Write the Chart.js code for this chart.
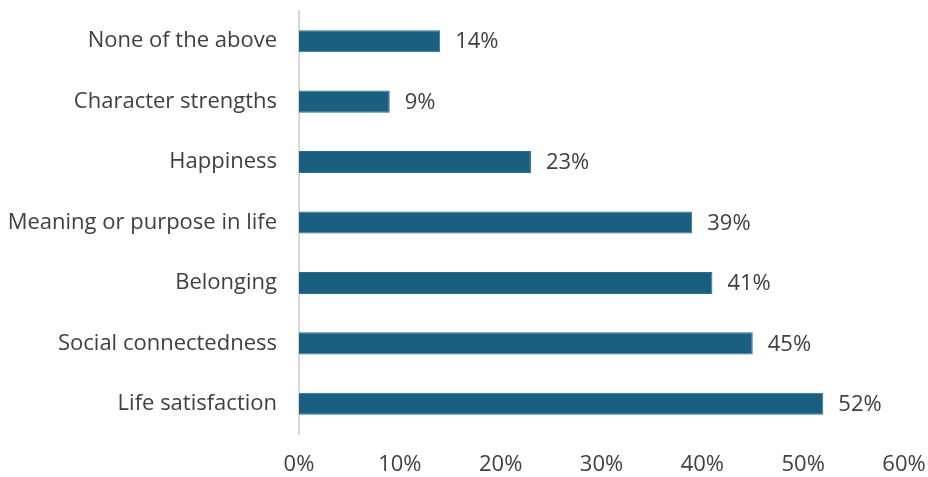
<!DOCTYPE html>
<html>
<head>
<meta charset="utf-8">
<script src="https://cdn.jsdelivr.net/npm/chart.js@4"></script>
<style>
  html, body { margin: 0; padding: 0; background: #ffffff; }
  #wrap { width: 928px; height: 477px; }
</style>
</head>
<body>
<div id="wrap"><canvas id="chart"></canvas></div>
<script>
const categories = [
    "None of the above",
    "Character strengths",
    "Happiness",
    "Meaning or purpose in life",
    "Belonging",
    "Social connectedness",
    "Life satisfaction"
];
const percentValues = [14, 9, 23, 39, 41, 45, 52];
const xTicks = [0, 10, 20, 30, 40, 50, 60];

const textColor = "#404040";
const barColor = "#1a5e80";

// draws "NN%" just past the end of each bar
const endLabels = {
    id: "endLabels",
    afterDatasetsDraw(chart) {
        const ctx = chart.ctx;
        const meta = chart.getDatasetMeta(0);
        ctx.save();
        ctx.font = "22px 'Open Sans'";
        ctx.fillStyle = textColor;
        ctx.textAlign = "left";
        ctx.textBaseline = "middle";
        meta.data.forEach((bar, i) => {
            ctx.fillText(percentValues[i] + "%", bar.x + 15, bar.y + 1);
        });
        ctx.restore();
    }
};

const ctx = document.getElementById("chart").getContext("2d");
const chart = new Chart(ctx, {
    type: "bar",
    data: {
        labels: categories,
        datasets: [
            {
                data: percentValues,
                backgroundColor: barColor,
                borderColor: "#2b6f90",
                borderWidth: 1,
                barPercentage: 0.365,
                categoryPercentage: 1.0,
            },
        ],
    },
    options: {
        indexAxis: "y",
        responsive: true,
        maintainAspectRatio: false,
        animation: false,
        layout: { padding: { top: 11, right: 24, bottom: 0, left: 0 } },
        plugins: {
            legend: { display: false },
            tooltip: { enabled: false },
        },
        scales: {
            x: {
                min: 0,
                max: 60,
                afterBuildTicks: (axis) => { axis.ticks = xTicks.map((v) => ({ value: v })); },
                afterFit: (axis) => {
                    axis.height = 43;
                    axis.paddingLeft = 0;
                    axis.paddingRight = 0;
                },
                ticks: {
                    callback: (v) => v + "%",
                    color: textColor,
                    font: { family: "'Open Sans'", size: 22 },
                    padding: 18,
                    maxRotation: 0,
                },
                grid: { display: false, drawTicks: false },
                border: { display: false },
            },
            y: {
                afterFit: (axis) => {
                    axis.width = 299;
                    axis.paddingTop = 0;
                    axis.paddingBottom = 0;
                },
                ticks: {
                    color: textColor,
                    font: { family: "'Open Sans'", size: 22 },
                    padding: 22,
                },
                grid: { display: false, drawTicks: false },
                border: { display: true, color: "#d9d9d9", width: 2 },
            },
        },
    },
    plugins: [endLabels],
});
</script>
</body>
</html>
